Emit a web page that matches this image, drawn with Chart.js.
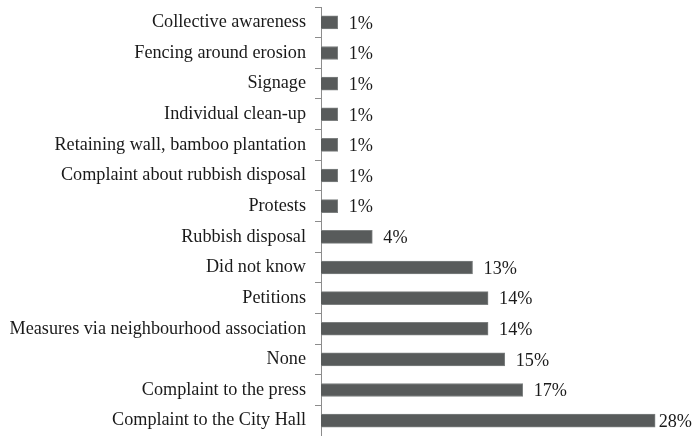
<!DOCTYPE html>
<html>
<head>
<meta charset="utf-8">
<script src="https://cdn.jsdelivr.net/npm/chart.js@4/dist/chart.umd.min.js"></script>
<style>
html,body{margin:0;padding:0;background:#fff;}
#wrap{width:696px;height:436px;position:relative;}
</style>
</head>
<body>
<div id="wrap"><canvas id="c"></canvas></div>
<script>
const categories = [
  "Collective awareness",
  "Fencing around erosion",
  "Signage",
  "Individual clean-up",
  "Retaining wall, bamboo plantation",
  "Complaint about rubbish disposal",
  "Protests",
  "Rubbish disposal",
  "Did not know",
  "Petitions",
  "Measures via neighbourhood association",
  "None",
  "Complaint to the press",
  "Complaint to the City Hall"
];
const values = [1.4, 1.4, 1.4, 1.4, 1.4, 1.4, 1.4, 4.3, 12.7, 14.0, 14.0, 15.4, 16.9, 28.0];
const valueLabels = ["1%","1%","1%","1%","1%","1%","1%","4%","13%","14%","14%","15%","17%","28%"];

const FONT = "'Liberation Serif', 'Times New Roman', serif";

const labelPlugin = {
  id: 'valueLabels',
  afterDatasetsDraw(chart) {
    const ctx = chart.ctx;
    const meta = chart.getDatasetMeta(0);
    ctx.save();
    ctx.font = "18.2px " + FONT;
    ctx.fillStyle = "#1a1a1a";
    ctx.textAlign = "left";
    ctx.textBaseline = "middle";
    meta.data.forEach((bar, i) => {
      const w = ctx.measureText(valueLabels[i]).width;
      const x = Math.min(bar.x + 11, chart.width - w - 4);
      ctx.fillText(valueLabels[i], x, bar.y + 1.5);
    });
    ctx.restore();
  }
};

new Chart(document.getElementById('c'), {
  type: 'bar',
  data: {
    labels: categories,
    datasets: [{
      data: values,
      backgroundColor: '#585b5b',
      borderColor: '#7d8080',
      borderWidth: 1,
      barThickness: 13
    }]
  },
  options: {
    indexAxis: 'y',
    responsive: true,
    maintainAspectRatio: false,
    animation: false,
    layout: { padding: { top: 7, bottom: 0, left: 0, right: 17 } },
    plugins: { legend: { display: false }, tooltip: { enabled: false } },
    scales: {
      x: { display: false, min: 0, max: 30 },
      y: {
        afterFit(scale) { scale.width = 321; scale.paddingTop = 0; scale.paddingBottom = 0; },
        border: { display: true, color: '#8c8c8c', width: 1 },
        grid: { display: true, drawOnChartArea: false, drawTicks: true, tickLength: 6, offset: true, color: '#8c8c8c' },
        ticks: { color: '#1a1a1a', font: { family: FONT, size: 18.2 }, padding: 9, autoSkip: false }
      }
    }
  },
  plugins: [labelPlugin]
});
</script>
</body>
</html>
